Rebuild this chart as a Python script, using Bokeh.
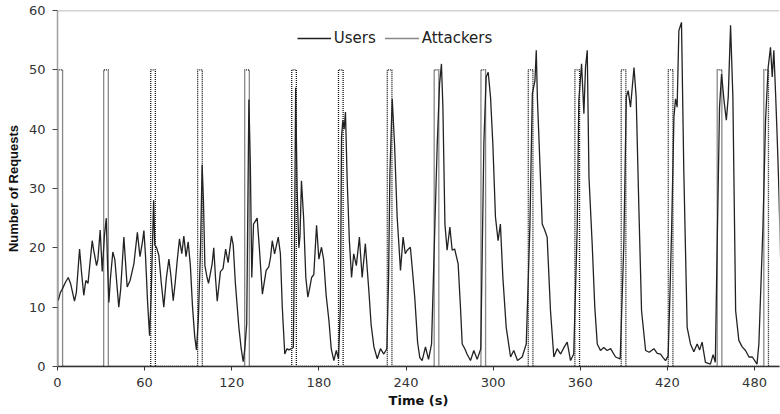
from bokeh.plotting import figure
from bokeh.models import FixedTicker, Span, Legend, LegendItem
from bokeh.embed import file_html
from bokeh.resources import INLINE

# ---- data ----
user_t = [0.5, 2, 3.2, 5.5, 7.4, 9, 11.7, 13, 15.2, 16.5, 18.1, 19.5, 21, 23.9, 25, 26.9, 27.8, 29.4,
          30.8, 32.3, 33.6, 34.5, 35.4, 36.5, 38.1, 39.5, 42.2, 43.5, 45.7, 47, 48, 50, 52.6, 55, 56.8,
          58.5, 59.5, 60.6, 62, 63.4, 64.5, 66.2, 67, 68.3, 69.8, 71.5, 73.2, 75, 76.7, 78, 79.7, 81,
          82.5, 84, 85.6, 87, 88.5, 90, 91.5, 93, 94.5, 95.7, 97, 98.5, 99.6, 100.5, 101.5, 103, 104,
          106.5, 107.6, 108.8, 110, 112.2, 114, 115.8, 117.5, 119.8, 121, 122.5, 124.9, 126.5, 127.9,
          129, 130.3, 131.2, 131.8, 132.8, 133.8, 135, 137.5, 139, 141.1, 143.7, 145.5, 146.7, 147.9,
          149.5, 152, 153.5, 154.8, 156.5, 158, 159.3, 161, 162.4, 163.2, 164, 165, 166.2, 167, 168,
          169.5, 171, 172.4, 173.5, 175, 176.5, 178.4, 180, 181.8, 183.3, 185, 186.9, 188.5, 190.3,
          192, 193.5, 194.8, 195.6, 196.5, 197.4, 198.3, 199.5, 201, 202.5, 204, 205.8, 207.9, 209.8,
          212, 214.4, 216, 217.9, 220.2, 222.4, 224.7, 226.8, 228, 228.9, 230.5, 232.1, 233.9, 236.2,
          238, 239.5, 240.8, 243, 244.5, 246, 248, 249.5, 251.1, 253.4, 255.5, 257.6, 259.9, 261.5,
          263.1, 264.4, 265.4, 266.8, 268.3, 270.2, 271.8, 273.5, 275.9, 277.5, 278.7, 280.5, 282,
          284.4, 286.7, 289, 291.5, 293.6, 295.2, 296.6, 298.2, 299.8, 301.6, 303.4, 305, 306.7, 309,
          312, 314.2, 316.8, 320, 322.8, 325.3, 327, 328.8, 329.7, 330.5, 331.5, 333.8, 335.5, 337.2,
          339.5, 341.8, 344.1, 346.5, 349, 351, 353.3, 355.5, 357.9, 359, 360.9, 362.5, 363.6, 364.8,
          366, 368.2, 370, 371.7, 373.9, 376.2, 378.5, 380.9, 384.3, 387.5, 390, 391.7, 393, 394.6,
          397, 398.5, 400.4, 402.2, 405, 407.5, 410.7, 413, 415.3, 417, 418.7, 420.5, 421.5, 422.9,
          424.5, 425.6, 426.7, 427.9, 429.7, 431.3, 433.6, 435.9, 438.2, 440.5, 442.2, 443.9, 446.2,
          449.6, 451.5, 453, 454.3, 455.9, 457.3, 459, 460.6, 461.9, 463.5, 465.1, 467, 469.2, 471.5,
          473.8, 476.2, 478.5, 481.7, 483, 485.8, 487.6, 489.4, 491, 492.2, 493.3, 494.5, 495.6,
          496.8, 497.9]
user_v = [11.1, 12.5, 13, 14.2, 15, 14, 11, 12.5, 19.8, 16, 12, 14.5, 14, 21.2, 19.5, 17, 18, 23,
          16, 22, 25, 17, 10.8, 15, 19.3, 18, 10, 13, 21.8, 17, 13.4, 14.5, 17.3, 22.6, 18.5,
          21, 22.9, 18.7, 11, 5.2, 12, 28, 20.5, 20, 18.7, 14, 10, 15, 18.1, 15.5, 11.1, 14,
          18, 21.5, 19, 22, 18.5, 21, 17, 10, 5, 2.8, 8, 20, 34, 28, 17, 15, 14,
          17.3, 20, 15, 11, 16, 16.5, 19.8, 17.5, 22, 20.5, 14, 6.6, 3, 0.8,
          3, 7.2, 30, 45, 34, 15, 24, 25, 20, 12.2, 16.2, 16.8, 18.4, 21.2,
          19, 21.8, 19, 10, 2.1, 3, 2.8, 3, 3.2, 20, 47, 30, 20, 22, 31.3,
          25, 15, 11.7, 13, 15, 15.5, 23.8, 18.1, 20.1, 18, 12, 7.8, 3, 1,
          2.7, 1.3, 10, 38.7, 41.5, 40, 42.9, 31.3, 21.2, 15, 19, 17, 21.8, 15,
          20.7, 12.8, 7, 3.3, 1.3, 3, 2.1, 3, 15, 32.5, 45.1, 37.5, 25.2, 16.2,
          21.8, 19, 19.6, 20.1, 16, 11.7, 4, 1.5, 1, 3.3, 1.2, 3.8, 24, 37.5,
          47.6, 51, 43.7, 24, 19.6, 23.5, 19.6, 19.8, 17.3, 10, 3.8, 3, 2.1,
          1, 2.7, 1.2, 3, 37.5, 48.8, 49.6, 45.4, 37.5, 25.2, 21.2, 24, 15, 6.6,
          1.6, 2.7, 1, 1.6, 3.8, 23.5, 46, 48.2, 53.3, 45, 38.7, 24, 23, 21.8,
          9.4, 1.6, 3, 2.1, 3.3, 4.1, 1, 2.1, 23.5, 44.8, 51, 42.6, 50.4, 53.3,
          31.9, 20.7, 10, 3.8, 2.7, 3.2, 2.7, 3, 1.6, 1.3, 20.7, 45.4, 46.5, 43.7,
          50.4, 45.4, 26.3, 9.4, 2.7, 2.4, 3, 2.2, 2.1, 1.5, 1, 1.8, 10, 22.9,
          42, 45.1, 43.7, 56.6, 58, 33, 6.6, 3.8, 2.5, 3.8, 2.8, 4.1, 0.7,
          0.4, 2, 0.7, 20.7, 43.7, 49.3, 44.8, 41.5, 45.4, 57.5, 45.4, 9.4, 4.4, 3.3,
          2.7, 1.6, 1.6, 0.4, 3.8, 23.5, 41.5, 50.4, 53.8, 48.8, 53.3, 46, 38.7,
          29.7, 18.4]

attack_starts = [0.3, 31.8, 64.2, 96.5, 128.9, 161.3, 193.5, 227.1, 259.4, 291.6,
                 324.2, 356.3, 388.2, 420.6, 454.3, 486.4]
attack_duration = 3.2
attack_level = 50

x_ticks = [0, 60, 120, 180, 240, 300, 360, 420, 480]
y_ticks = [0, 10, 20, 30, 40, 50, 60]

# build attacker square-pulse series from the pulse list
att_t, att_v = [], []
for s in attack_starts:
    att_t += [s, s, s + attack_duration, s + attack_duration]
    att_v += [0, attack_level, attack_level, 0]
att_t.append(500)
att_v.append(0)

# ---- figure ----
p = figure(width=780, height=412, x_range=(0, 497.2), y_range=(0, 60),
           output_backend="svg", toolbar_location=None,
           min_border_left=57, min_border_right=1, min_border_top=10, min_border_bottom=46)
p.xgrid.visible = False
p.ygrid.visible = False
p.outline_line_color = None
p.background_fill_color = "white"

p.add_layout(Span(location=60, dimension="width", line_color="#a8a8a8", line_width=1.5))

r_att = p.line(att_t, att_v, line_color="#111111", line_width=1.3, line_dash="1 1")
r_usr = p.line(user_t, user_v, line_color="#222222", line_width=1.3)

xa = p.xaxis[0]
xa.ticker = FixedTicker(ticks=x_ticks)
xa.minor_tick_line_color = None
xa.major_tick_out = 4
xa.major_tick_in = 0
xa.axis_line_color = "#333333"
xa.axis_line_width = 1.5
xa.major_tick_line_color = "#333333"
xa.major_label_text_font = "DejaVu Sans"
xa.major_label_text_font_size = "13px"
xa.major_label_text_color = "#333333"
xa.major_label_standoff = 7
xa.axis_label = "Time (s)"
xa.axis_label_text_font = "DejaVu Sans"
xa.axis_label_text_font_size = "13px"
xa.axis_label_text_font_style = "bold"
xa.axis_label_text_color = "#111111"
xa.axis_label_standoff = 3

ya = p.yaxis[0]
ya.ticker = FixedTicker(ticks=y_ticks)
ya.minor_tick_line_color = None
ya.major_tick_out = 5
ya.major_tick_in = 0
ya.axis_line_color = "#a0a0a0"
ya.axis_line_width = 1.5
ya.major_tick_line_color = "#444444"
ya.major_label_text_font = "DejaVu Sans"
ya.major_label_text_font_size = "13px"
ya.major_label_text_color = "#333333"
ya.major_label_standoff = 7
ya.axis_label = "Number of Requests"
ya.axis_label_text_font = "Liberation Sans"
ya.axis_label_text_font_size = "13px"
ya.axis_label_text_font_style = "bold"
ya.axis_label_text_color = "#111111"
ya.axis_label_standoff = 5

legend = Legend(items=[LegendItem(label="Users", renderers=[r_usr]),
                       LegendItem(label="Attackers", renderers=[r_att])],
                orientation="horizontal", location=(239.7, 317.7),
                padding=0, spacing=9, glyph_width=34, label_standoff=3,
                border_line_color=None, background_fill_alpha=0,
                label_text_font="DejaVu Sans", label_text_font_size="15px",
                label_text_color="#222222")
p.add_layout(legend)

open("out.html", "w").write(file_html(p, INLINE))
